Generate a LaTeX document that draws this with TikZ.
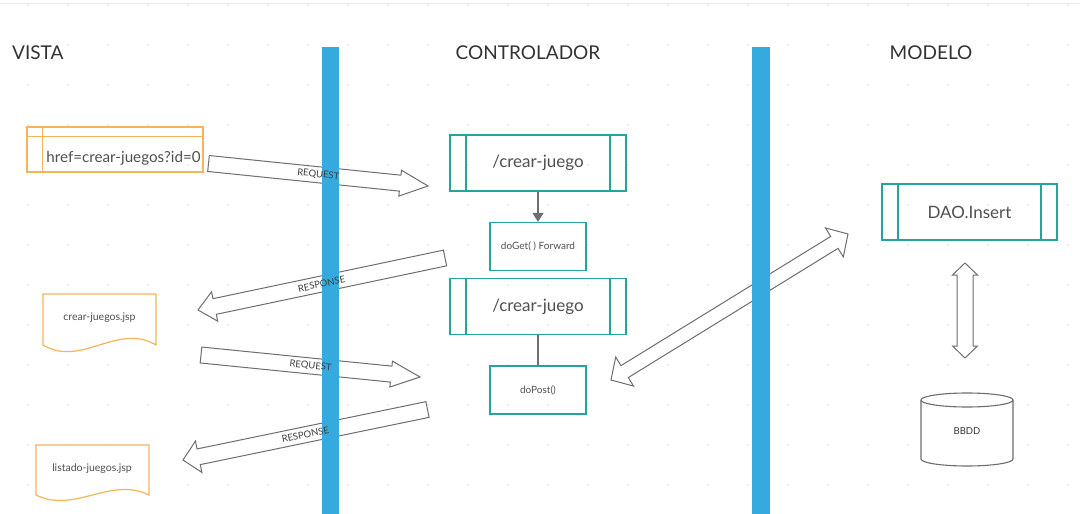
\documentclass[tikz,border=0pt]{standalone}
\usepackage{fontspec}
\setmainfont{Lato}
\usetikzlibrary{arrows.meta,calc}

\definecolor{barblue}{RGB}{52,170,222}
\definecolor{procteal}{RGB}{36,164,158}
\definecolor{pageorange}{RGB}{246,180,88}
\definecolor{arrowgray}{RGB}{110,110,110}
\definecolor{txtgray}{RGB}{80,80,80}
\definecolor{dotgray}{RGB}{222,222,222}

\tikzset{
  proc/.style={draw=procteal, line width=1.2pt, minimum width=176pt, minimum height=56pt,
    font=\fontsize{17}{20}\selectfont, text=txtgray,
    path picture={\draw[procteal, line width=1.2pt]
      ([xshift=16pt]path picture bounding box.north west) -- ([xshift=16pt]path picture bounding box.south west)
      ([xshift=-16pt]path picture bounding box.north east) -- ([xshift=-16pt]path picture bounding box.south east);}},
  meth/.style={draw=procteal, line width=1.2pt, minimum width=96pt, minimum height=48pt,
    font=\fontsize{10}{12}\selectfont, text=txtgray},
  fat/.style={draw=arrowgray, fill=white, line width=1pt, line join=miter},
  fatlbl/.style={font=\fontsize{9.5}{11}\selectfont, text=black!75, sloped},
  title/.style={font=\fontsize{19}{22}\selectfont, text=black!80},
  doc/.style={draw=pageorange, line width=1.2pt, fill=white},
  doctxt/.style={font=\fontsize{10.5}{12}\selectfont, text=txtgray},
}

% fat arrow: from, to, head length, head half width
\newcommand{\fatarrow}[4]{%
  \draw[fat] ($(#1)!8pt!90:(#2)$) -- ($(#2)!#3pt!(#1)!8pt!90:(#2)$) -- ($(#2)!#3pt!(#1)!#4pt!90:(#2)$)
    -- (#2) -- ($(#2)!#3pt!(#1)!#4pt!-90:(#2)$) -- ($(#2)!#3pt!(#1)!8pt!-90:(#2)$) -- ($(#1)!8pt!-90:(#2)$) -- cycle;
}
\newcommand{\fatlabel}[3]{\path (#1) -- (#2) node[midway, fatlbl] {#3};}

% double fat arrow: from, to, shaft half, head half, head length
\newcommand{\fatboth}[5]{%
  \draw[fat] (#1) -- ($(#1)!#5pt!(#2)!#4pt!90:(#2)$) -- ($(#1)!#5pt!(#2)!#3pt!90:(#2)$)
    -- ($(#2)!#5pt!(#1)!#3pt!-90:(#1)$) -- ($(#2)!#5pt!(#1)!#4pt!-90:(#1)$) -- (#2)
    -- ($(#2)!#5pt!(#1)!#4pt!90:(#1)$) -- ($(#2)!#5pt!(#1)!#3pt!90:(#1)$)
    -- ($(#1)!#5pt!(#2)!#3pt!-90:(#2)$) -- ($(#1)!#5pt!(#2)!#4pt!-90:(#2)$) -- cycle;
}

\begin{document}
\begin{tikzpicture}[x=1pt, y=-1pt]

    \useasboundingbox (0,0) rectangle (1080,514);
    \fill[white] (0,0) rectangle (1080,514);

    %fond
    \draw[black!8, line width=1pt] (0,3) -- (1080,3);
    \foreach \i in {0,...,26}
      \foreach \j in {0,...,12}
        \fill[dotgray] (28+40*\i, 5+40*\j) circle (0.8pt);

    %titres
    \node[title, anchor=west] (vista) at (8.7,53) {VISTA};
    \node[title] (ctrl) at (528,53) {CONTROLADOR};
    \node[title] (modelo) at (931,53) {MODELO};

    %vista
    \node[draw=pageorange, line width=1.2pt, minimum width=176pt, minimum height=45pt] (page) at (115,149.5) {};
    \draw[pageorange, line width=1.2pt] ([yshift=-10pt]page.north west) -- ([yshift=-10pt]page.north east);
    \draw[pageorange, line width=1.2pt] ([xshift=16pt]page.north west) -- ([xshift=16pt]page.south west);
    \node[font=\fontsize{15.2}{17}\selectfont, text=txtgray] (href) at (123.5,158) {href=crear-juegos?id=0};

    \draw[doc] (43,294) -- (156,294) -- (156,345) .. controls (118,322) and (81,368) .. (43,345) -- cycle;
    \node[doctxt] (crearjsp) at (99.5,318) {crear-juegos.jsp};
    \draw[doc] (36,445) -- (149,445) -- (149,495) .. controls (111,476) and (74,514) .. (36,495) -- cycle;
    \node[doctxt] (listadojsp) at (92,469) {listado-juegos.jsp};

    %controlador
    \node[proc] (proc1) at (538,163) {/crear-juego};
    \node[meth] (doget) at (538,246.5) {doGet( ) Forward};
    \node[proc] (proc2) at (538,306.5) {/crear-juego};
    \node[meth] (dopost) at (538,390) {doPost()};
    \draw[arrowgray, line width=1.3pt, -{Triangle[length=9pt, width=11pt]}] (proc1) -- (doget);
    \draw[arrowgray, line width=1.3pt] (proc2) -- (dopost);

    %modelo
    \node[proc, minimum width=175pt] (dao) at (969.5,212) {DAO.Insert};
    \fill[white] (921,400) -- (921,459) arc[start angle=180, end angle=360, x radius=46pt, y radius=7pt] -- (1013,400) -- cycle;
    \draw[arrowgray, line width=1.1pt] (921,400) -- (921,459) arc[start angle=180, end angle=360, x radius=46pt, y radius=7pt] -- (1013,400);
    \draw[arrowgray, line width=1.1pt, fill=white] (967,400) ellipse [x radius=46pt, y radius=7pt];
    \node[font=\fontsize{9.5}{11}\selectfont, text=black!80] (bbdd) at (967,431) {BBDD};

    %fleches
    \coordinate (req1-s) at (208.5,163.5);
    \coordinate (req1-e) at (428,186);
    \coordinate (resp1-s) at (445,258);
    \coordinate (resp1-e) at (198,310);
    \coordinate (req2-s) at (201,355);
    \coordinate (req2-e) at (420,377);
    \coordinate (resp2-s) at (427.5,409.5);
    \coordinate (resp2-e) at (183,460);
    \coordinate (ins-a) at (611,380);
    \coordinate (ins-b) at (848,234);
    \coordinate (db-a) at (965,263);
    \coordinate (db-b) at (965,358);

    \fatarrow{req1-s}{req1-e}{28}{13}
    \fatarrow{resp1-s}{resp1-e}{17}{15}
    \fatarrow{req2-s}{req2-e}{29}{13}
    \fatarrow{resp2-s}{resp2-e}{16}{16}
    \fatboth{ins-a}{ins-b}{7}{17}{16}
    \fatboth{db-a}{db-b}{8}{12.5}{12}

    %barres
    \fill[barblue] (322,47) rectangle (339,514);
    \fill[barblue] (752,47) rectangle (770,514);

    \fatlabel{req1-s}{req1-e}{REQUEST}
    \fatlabel{resp1-s}{resp1-e}{RESPONSE}
    \fatlabel{req2-s}{req2-e}{REQUEST}
    \fatlabel{resp2-s}{resp2-e}{RESPONSE}

\end{tikzpicture}
\end{document}
